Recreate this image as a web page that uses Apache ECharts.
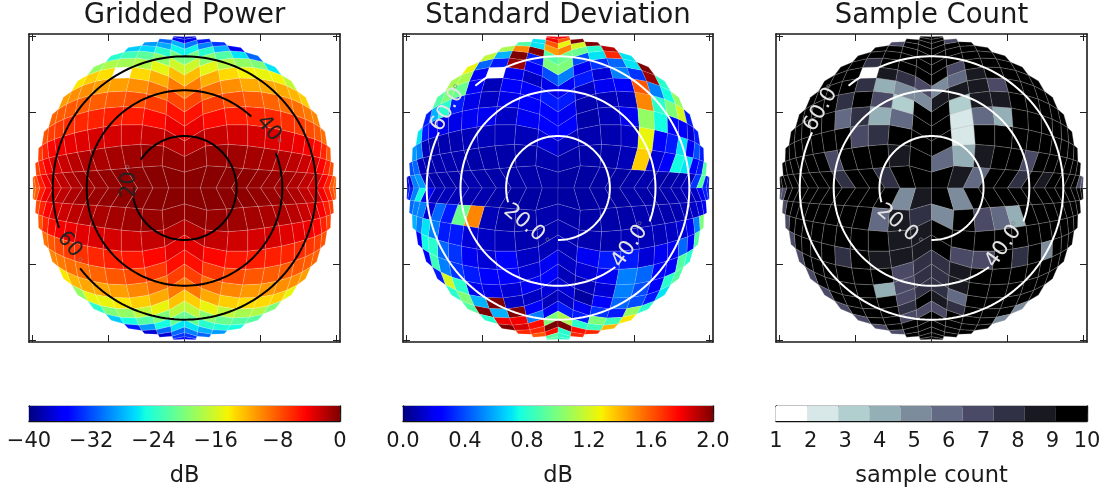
<!DOCTYPE html>
<html><head><meta charset="utf-8">
<style>html,body{margin:0;padding:0;background:#fff}#c{width:1105px;height:491px}</style>
<script src="https://cdn.jsdelivr.net/npm/echarts@6/dist/echarts.min.js"></script></head>
<body><div id="c"></div>
<script>
// Each quadrant: rows j = 0.., each row i = 0.. (outward from the centre)
const powerNE=[[-0.3,-0.3,-0.4,-0.5,-0.7,-0.9,-1.2,-1.6,-2.2,-2.8,-4,-5.5,-8,-8.5],[-0.7,-0.9,-1.1,-1.3,-1.5,-1.8,-2.1,-2.6,-3.3,-4.4,-5.8,-7.5],[-2,-2.5,-2.8,-3,-3.2,-3.4,-3.8,-4.2,-4.9,-6,-8],[-3.7,-4.8,-5.5,-5.8,-6,-6.4,-6.8,-7.5,-8,-9],[-5.2,-6.9,-7.7,-8.2,-8.6,-9,-9,-9.5,-10],[-7.3,-9.2,-10.4,-11.5,-11.5,-11.5,-12,-13],[-9.6,-11.7,-13.5,-14.5,-15,-14.5,-17],[-12.3,-15.2,-17.6,-19,-20,-26],[-16.3,-19.4,-22,-26,-31],[-20.3,-24,-28,-36],[-25.3,-30,-33],[-30.3,-34],[-36],[-37]];
const powerNW=[[-0.3,-0.3,-0.4,-0.5,-0.7,-0.9,-1.2,-1.6,-2.2,-2.8,-4,-5.5,-7.5,-8],[-0.7,-0.9,-1.1,-1.3,-1.5,-1.7,-2,-2.5,-3.2,-4.2,-5.5,-7],[-2,-2.5,-2.8,-3,-3.1,-3.3,-3.6,-4,-4.6,-5.8,-7],[-3.7,-4.8,-5.5,-5.7,-5.8,-6,-6.3,-6.7,-7,-7.8],[-5.2,-6.9,-7.7,-8.1,-8.3,-8.2,-8.1,-8.2,-8.5],[-7.3,-9.2,-10.4,-11.1,-11,-10.4,-10.4,-11],[-9.6,-11.7,-13.5,null,-13.7,-13,-14],[-12.3,-15.2,-17.6,-18.2,-17.8,-19],[-16.3,-19.4,-21.6,-23,-24],[-20.3,-24,-26.5,-27],[-25.3,-28.3,-29],[-28,-31],[-36],[-37]];
const powerSW=[[-0.3,-0.3,-0.4,-0.5,-0.7,-0.9,-1.2,-1.6,-2.2,-2.8,-4,-5.5,-8,-8.5],[-0.7,-0.9,-1.1,-1.3,-1.5,-1.8,-2.1,-2.6,-3.3,-4.4,-5.8,-7.5],[-1.9,-2.4,-2.7,-3,-3.2,-3.4,-3.8,-4.2,-4.9,-6,-8],[-3.5,-4.6,-5.3,-5.7,-6,-6.4,-6.8,-7.4,-8,-9],[-5,-6.7,-7.5,-8,-8.6,-9,-9,-9.5,-10],[-7,-9,-10,-11,-11.4,-11.4,-12,-14],[-9.4,-11.5,-13,-14,-15,-15,-19],[-12.5,-15,-17,-19,-20,-24],[-17,-20,-22,-25,-27],[-21,-25,-29,-34],[-26,-31,-37],[-31,-37],[-33],[-35]];
const powerSE=[[-0.3,-0.3,-0.4,-0.5,-0.7,-0.9,-1.2,-1.6,-2.2,-2.8,-4,-5.5,-7.5,-8],[-0.7,-0.9,-1.1,-1.3,-1.5,-1.7,-2,-2.5,-3.2,-4.2,-5.5,-7],[-1.9,-2.4,-2.7,-3,-3.1,-3.3,-3.6,-4,-4.6,-5.8,-7],[-3.5,-4.6,-5.3,-5.6,-5.7,-5.9,-6.2,-6.6,-7,-7.8],[-5,-6.7,-7.5,-8,-8.2,-8.2,-8.1,-8.3,-8.6],[-7,-9,-10,-10.8,-10.8,-10.4,-10.4,-11],[-9.4,-11.5,-13,-13.6,-13.5,-13,-15],[-13,-15,-17,-18,-17.5,-20],[-17,-19.4,-21,-22,-22],[-21,-24,-24.5,-25],[-26,-28,-29],[-30,-31],[-33],[-35]];
const stdNE=[[.06,.06,.06,.06,.07,.08,.07,.07,.08,.1,.35,.9,.3,.3],[.07,.07,.07,.1,1.35,.15,.25,.75,.7,.25,.3,.9],[.1,.08,.08,.12,1.25,.25,.3,.7,.25,.4,.3],[.22,.07,.1,.2,1.05,.75,.25,.25,.15,.3],[.2,.08,.1,.12,1.5,.8,1,1.2,.3],[.3,.12,.2,.25,1.6,.5,.75,1.05],[.2,.3,.15,.5,.35,1.95,.8],[.5,.2,.35,.45,.7,2],[1,.4,.7,1.7,.7],[.95,.95,.8,1.9],[1.5,1.2,2],[1.25,2],[1.6],[1.8]];
const stdNW=[[.07,.07,.07,.07,.07,.08,.07,.07,.07,.1,.55,.5,.15,.15],[.08,.07,.07,.07,.07,.08,.08,.08,.08,.1,.45,.4],[.15,.1,.1,.1,.1,.08,.08,.08,.1,.5,.55],[.25,.2,.12,.2,.2,.18,.18,.2,.3,.7],[.25,.25,.18,.12,.18,.3,.8,.6,.3],[.3,.25,.22,.1,.25,.95,1,.9],[.18,.12,.2,null,.25,1.1,1.1],[.4,.25,1.95,.3,.45,1.25],[1,.3,2,.6,1.15],[.9,2,1.5,1.1],[1.45,.7,.9],[1.6,.7],[1.8],[1.8]];
const stdSW=[[.06,.06,.06,.07,.08,.08,.1,.1,.1,.2,.75,.5,.3,.3],[.08,.07,.07,.1,1.5,.95,.3,.45,.15,.5,.5,.45],[.08,.08,.1,.12,.15,.3,.3,.5,.7,.5,.6],[.1,.12,.22,.15,.2,.35,.45,.8,.75,.25],[.2,.15,.22,.25,.3,.35,.5,.85,.25],[.22,.2,.15,.18,.2,.8,1.2,.3],[.15,.12,.12,2,.6,1,.8],[.1,.22,2,.6,2,.9],[.2,.5,1.8,1.8,.8],[1,1.75,1.85,2],[2,1.7,1.7],[1.75,1.6],[.9],[.9]];
const stdSE=[[.06,.06,.06,.06,.07,.07,.07,.08,.08,.1,.12,.2,.3,.3],[.07,.07,.07,.07,.08,.08,.08,.08,.1,.12,.15,.2],[.08,.08,.08,.1,.1,.1,.12,.15,.2,.5,1],[.1,.2,.3,.3,.15,.2,.2,.45,.25,.9],[.12,.15,.2,.5,.45,.25,.25,.9,.8],[.1,.1,.15,.5,.4,.25,.8,.9],[.15,.06,.25,.45,.4,.3,.7],[.12,.2,.35,.3,1.05,.8],[.3,.3,1,.85,1.3],[1.1,.8,.85,1.4],[2,1.75,1.7],[.8,1.7],[.8],[.8]];
const countNE=[[10,9,6,10,10,8,10,9,10,10,10,10,7,7],[6,4,9,10,10,7,10,10,10,10,10,10],[10,2,10,10,10,10,10,10,10,10,10],[10,2,6,4,10,10,10,10,10,10],[10,3,9,9,10,10,10,10,10],[9,9,9,7,10,10,10,10],[5,6,9,10,10,10,10],[10,7,10,10,10,10],[10,10,10,10,10],[10,10,10,10],[10,10,10],[10,7],[10],[10]];
const countNW=[[10,10,8,10,10,8,10,10,10,10,10,10,10,10],[10,9,10,10,10,7,10,10,10,10,10,10],[10,10,8,7,10,10,10,10,10,10,10],[10,6,4,8,6,10,10,10,10,10],[10,3,7,10,8,10,10,10,10],[5,5,4,8,10,10,10,10],[7,8,9,null,10,10,10],[10,10,10,8,10,10],[10,10,10,10,10],[10,10,10,10],[10,10,7],[10,10],[10],[10]];
const countSW=[[9,5,10,10,10,10,10,10,10,10,10,10,7,7],[8,9,6,10,10,10,10,10,10,10,10,7],[9,9,10,10,10,10,10,10,10,10,7],[9,9,9,10,8,10,10,10,10,7],[8,7,10,10,10,10,10,10,7],[8,7,4,10,10,10,10,7],[8,7,10,10,10,10,7],[10,8,10,10,10,7],[7,7,10,10,7],[10,10,10,7],[10,10,7],[10,10],[10],[10]];
const countSE=[[10,5,10,10,10,10,10,10,10,10,10,10,10,10],[5,10,7,6,4,10,10,10,10,10,10,10],[10,10,10,10,10,10,10,10,10,10,10],[10,7,7,10,8,10,5,10,10,10],[8,9,10,10,10,10,10,10,10],[8,9,10,10,10,10,10,10],[8,6,10,10,10,10,10],[9,8,10,10,10,5],[7,10,10,10,5],[10,10,10,10],[10,10,10],[10,10],[10],[10]];

const titles=['Gridded Power','Standard Deviation','Sample Count'];
const barNames=['dB','dB','sample count'];
const powerTicks=[-40,0,8], stdTicks=[0,2,0.4], countTicks=[1,10,1];
const axisTicks=[-1,-0.5,0,0.5,1];
const angleStepDeg=6;
const contourLevels=[20,40,60];
// per contour: gap from/to angle on the circle, label text, label centre (angle deg, radius in sine units), rotation, degree-mark offset px and direction
const contoursA=[[147,191,'20',176.6,.362,90,18,97],[22,47,'40',35.2,.678,-50,16,-47],[199.3,217.6,'60',206.2,.842,-50,18.6,-53]];
const contoursB=[[197,270,'20.0',225.8,.321,-40,28.7,-35],[-54,-20,'40.0',-39,.609,55,25,67],[130,155,'60.0',144.7,.892,60,24.6,72]];
const countColors=['#ffffff','#d8e7e7','#b1cfcf','#95afb6','#7c8c9c','#636a83','#4a4a67','#313145','#191922','#000000'];
const jetStops=[[0,0,0,127],[.11,0,0,255],[.125,0,0,255],[.34,0,219,255],[.35,0,229,246],[.375,20,255,226],[.5,125,255,122],[.64,246,244,0],[.66,255,220,0],[.89,255,0,0],[.91,232,0,0],[1,127,0,0]];

const Q=[[1,1],[-1,1],[-1,-1],[1,-1]];
function jet(t){t=Math.max(0,Math.min(1,t));
  for(let k=1;k<jetStops.length;k++){const a=jetStops[k-1],b=jetStops[k];
    if(t<=b[0]){const f=(t-a[0])/(b[0]-a[0]);return `rgb(${[1,2,3].map(c=>Math.round(a[c]+f*(b[c]-a[c]))).join(',')})`;}}
  return 'rgb(127,0,0)';}
// mesh vertex: ring i+j sets the off-axis angle, the index ratio sets the azimuth
function node(sx,sy,i,j){const n=i+j,th=n*angleStepDeg*Math.PI/180,ph=n?Math.atan2(j,i):0,r=Math.sin(th);
  return [sx*r*Math.cos(ph),sy*r*Math.sin(ph)];}
function flatten(qs){const out=[];qs.forEach((rows,q)=>rows.forEach((row,j)=>row.forEach((v,i)=>{if(v!==null)out.push([Q[q][0],Q[q][1],i,j,v]);})));return out;}

const panels=[
 {left:29,w:311,data:[powerNE,powerNW,powerSW,powerSE],color:v=>jet((v+40)/40),grid:'rgba(255,255,255,0.28)',line:'#000',text:'#222',contours:contoursA,ticks:powerTicks},
 {left:403,w:310,data:[stdNE,stdNW,stdSW,stdSE],color:v=>jet(v/2),grid:'rgba(255,255,255,0.22)',line:'#fff',text:'#e4e4e4',contours:contoursB,ticks:stdTicks},
 {left:776,w:311,data:[countNE,countNW,countSW,countSE],color:v=>countColors[Math.max(0,Math.min(9,Math.round(v)-1))],grid:'rgba(170,170,170,0.45)',line:'#fff',text:'#e4e4e4',contours:contoursB,ticks:countTicks}
];
const panelTop=34,panelH=308,barTop=406,barH=15,FONT='DejaVu Sans';
const opt={animation:false,backgroundColor:'#fff',title:[],grid:[],xAxis:[],yAxis:[],series:[]};
const lineStyle={color:'#1a1a1a',width:1.6};
function frameAxis(gi,pos,extra){return Object.assign({type:'value',gridIndex:gi,position:pos,splitLine:{show:false},axisLine:{show:true,onZero:false,lineStyle},axisTick:{show:true,inside:true,length:7,lineStyle:{color:'#222',width:1},customValues:axisTicks},axisLabel:{show:false}},extra);}
panels.forEach((p,k)=>{
  const gi=k*2, gb=k*2+1;
  opt.title.push({text:titles[k],left:p.left+p.w/2,top:2,padding:0,textAlign:'center',textStyle:{fontFamily:FONT,fontWeight:'normal',fontSize:27.5,color:'#1a1a1a'}});
  opt.grid.push({left:p.left,top:panelTop,width:p.w,height:panelH});
  opt.grid.push({left:p.left,top:barTop,width:p.w,height:barH});
  const xr={min:-1.022,max:1.022},yr={min:-1.013,max:1.013};
  const ax0=opt.xAxis.length,ay0=opt.yAxis.length;
  opt.xAxis.push(frameAxis(gi,'bottom',xr),frameAxis(gi,'top',xr));
  opt.yAxis.push(frameAxis(gi,'left',yr),frameAxis(gi,'right',yr));
  const [mn,mx,st]=p.ticks;
  const bx=opt.xAxis.length,by=opt.yAxis.length;
  const barLine={show:true,onZero:false,lineStyle:{color:'#111',width:1.4}};
  opt.xAxis.push({type:'value',gridIndex:gb,position:'bottom',min:mn,max:mx,interval:st,splitLine:{show:false},
    axisLine:barLine,axisTick:{show:true,inside:true,length:8,lineStyle:{color:'#222',width:1}},
    axisLabel:{show:true,margin:10,hideOverlap:false,showMinLabel:true,showMaxLabel:true,fontFamily:FONT,fontSize:21,color:'#1a1a1a',formatter:v=>k===1?v.toFixed(1):String(v).replace('-','\u2212')},
    name:barNames[k],nameLocation:'middle',nameGap:44,nameTextStyle:{fontFamily:FONT,fontSize:22.5,color:'#1a1a1a'}});
  opt.xAxis.push({type:'value',gridIndex:gb,position:'top',min:mn,max:mx,axisLine:barLine,axisTick:{show:false},axisLabel:{show:false},splitLine:{show:false}});
  opt.yAxis.push({type:'value',gridIndex:gb,position:'left',min:0,max:1,axisLine:barLine,axisTick:{show:false},axisLabel:{show:false},splitLine:{show:false}});
  opt.yAxis.push({type:'value',gridIndex:gb,position:'right',min:0,max:1,axisLine:barLine,axisTick:{show:false},axisLabel:{show:false},splitLine:{show:false}});
  opt.series.push({type:'custom',xAxisIndex:ax0,yAxisIndex:ay0,silent:true,z:2,data:flatten(p.data),
    renderItem:(params,api)=>{const sx=api.value(0),sy=api.value(1),i=api.value(2),j=api.value(3),v=api.value(4);
      const pts=[[i,j],[i+1,j],[i+1,j+1],[i,j+1]].map(n=>api.coord(node(sx,sy,n[0],n[1])));
      return {type:'polygon',shape:{points:pts},style:{fill:p.color(v),stroke:p.grid,lineWidth:.6},silent:true};}});
  opt.series.push({type:'custom',xAxisIndex:ax0,yAxisIndex:ay0,silent:true,z:5,data:contourLevels.map((l,n)=>[l,n]),
    renderItem:(params,api)=>{const level=api.value(0),c=p.contours[api.value(1)];
      const r=Math.sin(level*Math.PI/180),pts=[];
      for(let a=c[1];a<=c[0]+360+.01;a+=2){const t=a*Math.PI/180;pts.push(api.coord([r*Math.cos(t),r*Math.sin(t)]));}
      const lt=c[3]*Math.PI/180,ctr=api.coord([c[4]*Math.cos(lt),c[4]*Math.sin(lt)]);
      const rot=c[5]*Math.PI/180,dd=c[7]*Math.PI/180;
      return {type:'group',children:[
        {type:'polyline',shape:{points:pts},style:{fill:null,stroke:p.line,lineWidth:2},silent:true},
        {type:'text',x:ctr[0],y:ctr[1],rotation:rot,style:{text:c[2],fill:p.text,font:'21px "DejaVu Sans"',align:'center',verticalAlign:'middle'},silent:true},
        {type:'circle',shape:{cx:ctr[0]+c[6]*Math.cos(dd),cy:ctr[1]-c[6]*Math.sin(dd),r:1.6},style:{fill:null,stroke:'rgba(130,130,130,.8)',lineWidth:.8},silent:true}
      ]};}});
  if(k<2){
    opt.series.push({type:'custom',xAxisIndex:bx,yAxisIndex:by,silent:true,z:1,data:[[mn,mx]],
      renderItem:(params,api)=>{const a=api.coord([api.value(0),0]),b=api.coord([api.value(1),1]);
        return {type:'rect',shape:{x:a[0],y:b[1],width:b[0]-a[0],height:a[1]-b[1]},silent:true,
          style:{fill:new echarts.graphic.LinearGradient(0,0,1,0,jetStops.map(s=>({offset:s[0],color:`rgb(${s[1]},${s[2]},${s[3]})`})))}};}});
  }else{
    const bandW=(mx-mn)/countColors.length;
    opt.series.push({type:'custom',xAxisIndex:bx,yAxisIndex:by,silent:true,z:1,data:countColors.map((c,n)=>[mn+n*bandW,mn+(n+1)*bandW,n]),
      renderItem:(params,api)=>{const a=api.coord([api.value(0),0]),b=api.coord([api.value(1),1]);
        return {type:'rect',shape:{x:a[0],y:b[1],width:b[0]-a[0],height:a[1]-b[1]},silent:true,style:{fill:countColors[api.value(2)]}};}});
  }
});
const chart=echarts.init(document.getElementById('c'),null,{renderer:'canvas'});
chart.setOption(opt);
</script></body></html>
